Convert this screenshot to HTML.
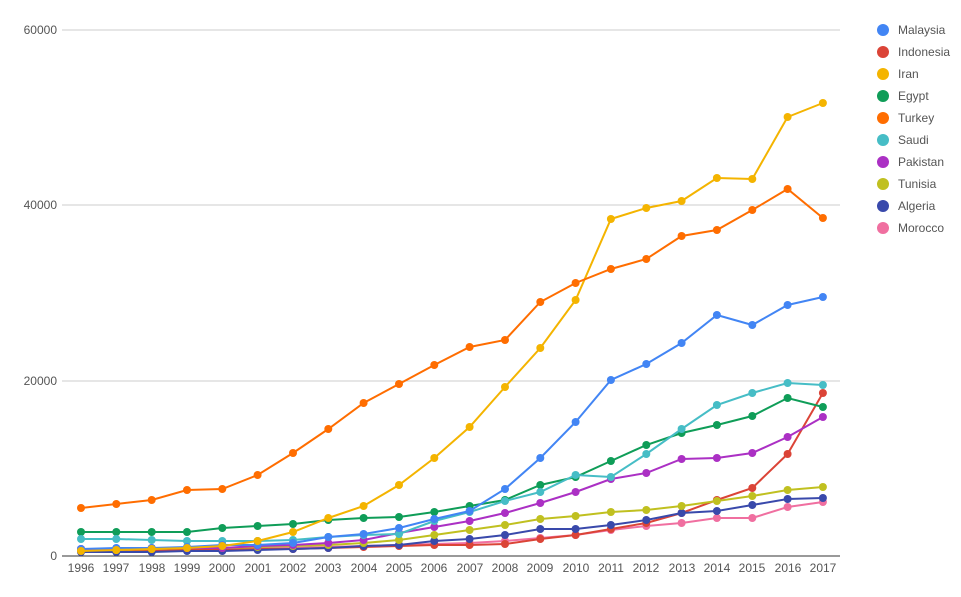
<!DOCTYPE html>
<html><head><meta charset="utf-8"><style>
body{margin:0;background:#fff;width:961px;height:592px;overflow:hidden}
svg text{font-family:"Liberation Sans",sans-serif;font-size:12px;fill:#555}
</style></head><body>
<svg id="s" width="961" height="592" xmlns="http://www.w3.org/2000/svg">
<line x1="62" y1="30" x2="840" y2="30" stroke="#ccc"/>
<line x1="62" y1="205" x2="840" y2="205" stroke="#ccc"/>
<line x1="62" y1="381" x2="840" y2="381" stroke="#ccc"/>
<line x1="62" y1="556" x2="840" y2="556" stroke="#333"/>
<text x="57" y="34" text-anchor="end">60000</text>
<text x="57" y="209" text-anchor="end">40000</text>
<text x="57" y="385" text-anchor="end">20000</text>
<text x="57" y="560" text-anchor="end">0</text>
<g id="xl"></g><g id="ser"></g>
<g id="leg">
<text x="898" y="34">Malaysia</text><text x="898" y="56">Indonesia</text><text x="898" y="78">Iran</text><text x="898" y="100">Egypt</text><text x="898" y="122">Turkey</text><text x="898" y="144">Saudi</text><text x="898" y="166">Pakistan</text><text x="898" y="188">Tunisia</text><text x="898" y="210">Algeria</text><text x="898" y="232">Morocco</text>
</g>
<text x="81" y="572" text-anchor="middle">1996</text><text x="116" y="572" text-anchor="middle">1997</text><text x="152" y="572" text-anchor="middle">1998</text><text x="187" y="572" text-anchor="middle">1999</text><text x="222" y="572" text-anchor="middle">2000</text><text x="258" y="572" text-anchor="middle">2001</text><text x="293" y="572" text-anchor="middle">2002</text><text x="328" y="572" text-anchor="middle">2003</text><text x="364" y="572" text-anchor="middle">2004</text><text x="399" y="572" text-anchor="middle">2005</text><text x="434" y="572" text-anchor="middle">2006</text><text x="470" y="572" text-anchor="middle">2007</text><text x="505" y="572" text-anchor="middle">2008</text><text x="540" y="572" text-anchor="middle">2009</text><text x="576" y="572" text-anchor="middle">2010</text><text x="611" y="572" text-anchor="middle">2011</text><text x="646" y="572" text-anchor="middle">2012</text><text x="682" y="572" text-anchor="middle">2013</text><text x="717" y="572" text-anchor="middle">2014</text><text x="752" y="572" text-anchor="middle">2015</text><text x="788" y="572" text-anchor="middle">2016</text><text x="823" y="572" text-anchor="middle">2017</text>
</svg>
<script>
var S=[
["#f06fa0",[549,549,549,549,549,548,548,547,546,545,544,543,541,538,535,530,526,523,518,518,507,502]],
["#db4437",[550,550,550,550,550,549,549,548,547,546,545,545,544,539,535,529,523,513,500,488,454,393]],
["#3949ab",[552,552,552,551,551,550,549,548,546,545,541,539,535,529,529,525,520,513,511,505,499,498]],
["#c0c020",[550,550,549,548,548,547,546,545,543,540,535,530,525,519,516,512,510,506,501,496,490,487]],
["#ab30c4",[549,549,548,548,548,546,545,543,540,533,527,521,513,503,492,479,473,459,458,453,437,417]],
["#0f9d58",[532,532,532,532,528,526,524,520,518,517,512,506,500,485,477,461,445,433,425,416,398,407]],
["#46bdc6",[539,539,540,541,541,541,540,537,535,534,521,512,501,492,475,477,454,429,405,393,383,385]],
["#4285f4",[549,548,548,547,545,545,543,537,534,528,519,511,489,458,422,380,364,343,315,325,305,297]],
["#f4b400",[551,550,549,548,546,541,532,518,506,485,458,427,387,348,300,219,208,201,178,179,117,103]],
["#ff6d00",[508,504,500,490,489,475,453,429,403,384,365,347,340,302,283,269,259,236,230,210,189,218]]];
var leg=["#4285f4","#db4437","#f4b400","#0f9d58","#ff6d00","#46bdc6","#ab30c4","#c0c020","#3949ab","#f06fa0"];
var h="";
S.forEach(function(s){var p=s[1].map(function(y,i){return (81+i*35.33).toFixed(1)+","+y}).join(" ");
h+='<polyline points="'+p+'" fill="none" stroke="'+s[0]+'" stroke-width="2"/>';
s[1].forEach(function(y,i){h+='<circle cx="'+(81+i*35.33).toFixed(1)+'" cy="'+y+'" r="4" fill="'+s[0]+'"/>';});});
leg.forEach(function(c,i){h+='<circle cx="883" cy="'+(30+i*22)+'" r="6" fill="'+c+'"/>';});
document.getElementById("ser").innerHTML=h;
</script>
</body></html>
